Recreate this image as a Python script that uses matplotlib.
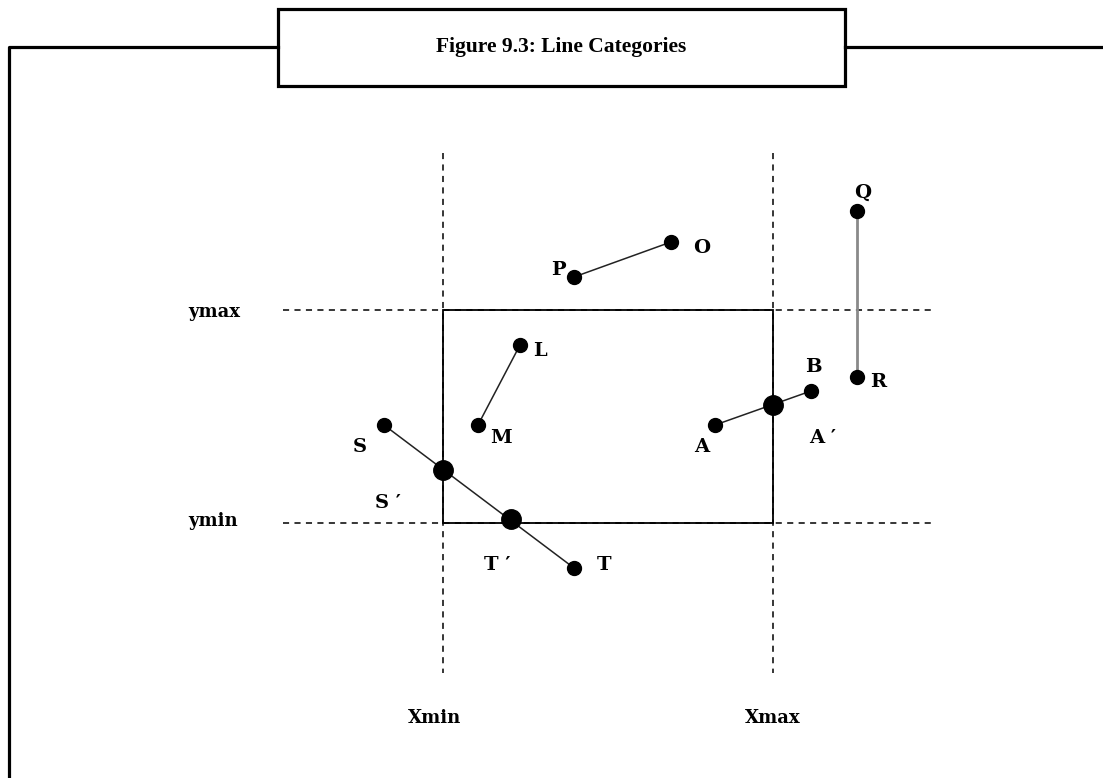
import matplotlib
matplotlib.use("Agg")
import matplotlib.pyplot as plt
from matplotlib.patches import Rectangle

plt.rcParams['font.family'] = ['DejaVu Serif']

# clip window (pixel coords of the page)
xmin, xmax = 443, 773
ymin, ymax = 523, 310

# line segments: name -> (x0, y0, x1, y1)
seg_names = ["PO", "QR", "LM", "ST", "AB"]
seg_x0 = [574, 857, 520, 384, 715]
seg_y0 = [277, 211, 345, 425, 425]
seg_x1 = [671, 857, 478, 574, 811]
seg_y1 = [242, 377, 425, 568, 391]
seg_colors = ["#222222", "#8a8a8a", "#222222", "#222222", "#222222"]

# clipping intersection points
clip_x = [443, 511, 773]
clip_y = [470, 519, 405]

# point labels
lab_text = ["P", "O", "Q", "R", "L", "M", "S", "S \u2032", "T \u2032", "T", "A", "B", "A \u2032"]
lab_x = [558, 702, 863, 878, 540, 501, 360, 388, 497, 604, 702, 813, 823]
lab_y = [270, 248, 193, 382, 351, 438, 447, 503, 565, 565, 447, 367, 438]

# boundary labels
bound_text = ["ymax", "ymin", "Xmin", "Xmax"]
bound_x = [214, 213, 434, 773]
bound_y = [312, 521, 718, 718]

title = "Figure 9.3: Line Categories"

fig = plt.figure(figsize=(11.03, 7.78), dpi=100)
ax = fig.add_axes([0, 0, 1, 1])
ax.set_xlim(0, 1103)
ax.set_ylim(778, 0)
ax.axis('off')

# page frame and title box
ax.plot([9, 9, 278], [778, 47, 47], color='black', lw=2.3, solid_capstyle='projecting')
ax.plot([845, 1103], [47, 47], color='black', lw=2.3)
ax.add_patch(Rectangle((278, 9), 845 - 278, 86 - 9, fill=False, ec='black', lw=2.3))
ax.text(561, 47, title, ha='center', va='center', fontsize=15.5, fontweight='bold',
        family=['Liberation Serif', 'DejaVu Serif'])

# dashed window extensions
for xv in [xmin, xmax]:
    ax.plot([xv, xv], [153, 673], color='black', lw=1.1, dashes=(4, 3.5))
for yv in [ymax, ymin]:
    ax.plot([283, 933], [yv, yv], color='black', lw=1.1, dashes=(4, 3.5))

# clip window
ax.add_patch(Rectangle((xmin, ymax), xmax - xmin, ymin - ymax, fill=False, ec='black', lw=1.3))

# segments with endpoints
for i in range(len(seg_names)):
    lw = 2.0 if seg_names[i] == "QR" else 1.1
    ax.plot([seg_x0[i], seg_x1[i]], [seg_y0[i], seg_y1[i]], color=seg_colors[i], lw=lw, zorder=3)
    ax.plot([seg_x0[i], seg_x1[i]], [seg_y0[i], seg_y1[i]], 'o', color='black', ms=10, zorder=4)

ax.plot(clip_x, clip_y, 'o', color='black', ms=14, zorder=5)

for t, x, y in zip(lab_text, lab_x, lab_y):
    ax.text(x, y, t, ha='center', va='center', fontsize=14, fontweight='bold')

for t, x, y in zip(bound_text, bound_x, bound_y):
    ax.text(x, y, t, ha='center', va='center', fontsize=13, fontweight='bold')

fig.savefig("out.png", dpi=100)
